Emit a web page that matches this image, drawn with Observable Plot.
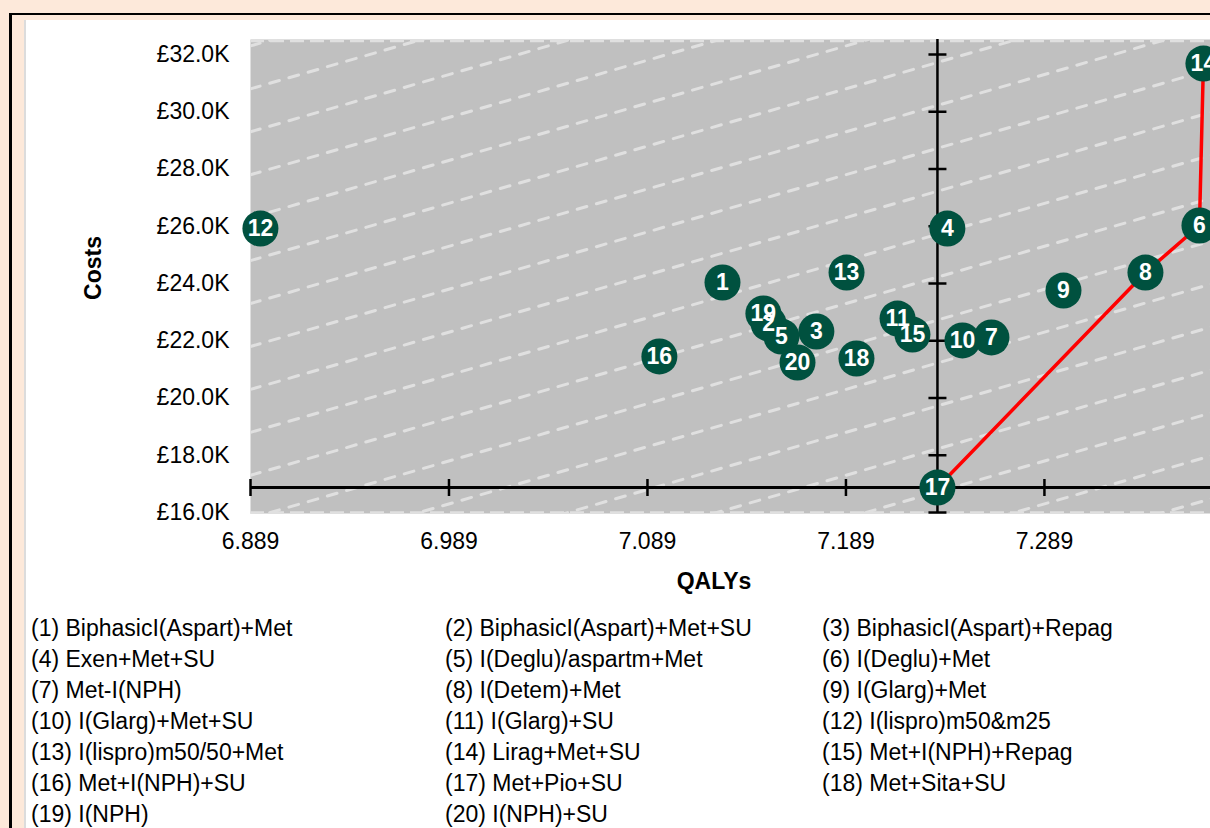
<!DOCTYPE html>
<html><head><meta charset="utf-8">
<script src="https://cdn.jsdelivr.net/npm/d3@7"></script>
<script src="https://cdn.jsdelivr.net/npm/@observablehq/plot@0.6"></script>
<style>
html,body{margin:0;padding:0;width:1210px;height:828px;overflow:hidden;background:#fde9da;font-family:"Liberation Sans",Arial,sans-serif;}
#outer{position:absolute;left:9px;top:13px;width:1400px;height:1000px;border-left:3px solid #000;border-top:2.5px solid #000;}
#panel{position:absolute;left:24px;top:20px;width:1400px;height:1000px;background:#fff;border-left:2px solid #dcdcdc;}
#chart{position:absolute;left:0;top:0;}
.title{position:absolute;font-weight:bold;font-size:23px;line-height:1;color:#000;white-space:nowrap;transform:translate(-50%,-50%);}
.item{position:absolute;white-space:nowrap;font-size:23px;line-height:31px;color:#000;}
</style></head>
<body>
<div id="outer"></div>
<div id="panel"></div>
<div id="chart"></div>
<div class="title" style="left:714px;top:581px;">QALYs</div>
<div class="title" style="left:93px;top:268px;transform:translate(-50%,-50%) rotate(-90deg);">Costs</div>
<div id="legend"></div>
<script>
// Strategy names (numbered 1..20)
const names = [
  "BiphasicI(Aspart)+Met", "BiphasicI(Aspart)+Met+SU", "BiphasicI(Aspart)+Repag",
  "Exen+Met+SU", "I(Deglu)/aspartm+Met", "I(Deglu)+Met",
  "Met-I(NPH)", "I(Detem)+Met", "I(Glarg)+Met",
  "I(Glarg)+Met+SU", "I(Glarg)+SU", "I(lispro)m50&m25",
  "I(lispro)m50/50+Met", "Lirag+Met+SU", "Met+I(NPH)+Repag",
  "Met+I(NPH)+SU", "Met+Pio+SU", "Met+Sita+SU",
  "I(NPH)", "I(NPH)+SU"
];
// QALYs per strategy
const qalys = [
  7.1268, 7.1500, 7.1741,
  7.2401, 7.1565, 7.3671,
  7.2623, 7.3399, 7.2986,
  7.2477, 7.2150, 6.8940,
  7.1893, 7.3691, 7.2225,
  7.0950, 7.2351, 7.1943,
  7.1474, 7.1646
];
// Costs per strategy (£ thousands)
const costs = [
  24.035, 22.603, 22.323,
  25.921, 22.148, 26.026,
  22.114, 24.384, 23.755,
  22.009, 22.777, 25.921,
  24.384, 31.685, 22.218,
  21.450, 16.873, 21.380,
  22.952, 21.240
];
// Efficiency frontier (strategy numbers, in order)
const frontierIds = [17, 8, 6, 14];
// Reference strategy where the axes cross
const referenceId = 17;
// Axis ticks (visible part)
const xTicks = [6.889, 6.989, 7.089, 7.189, 7.289];
const yTicks = [16, 18, 20, 22, 24, 26, 28, 30, 32];
// Willingness-to-pay iso-lines: cost at left edge (£K) and slope (£K per QALY)
const wtpIntercepts = [32.3, 30.8, 29.3, 27.8, 26.3, 24.8, 23.3, 21.8, 20.3, 18.8, 17.3, 15.8, 14.3, 12.8, 11.3, 9.8, 8.3, 6.8, 5.3];
const wtpSlope = 20;

const xDomain = [6.889, 7.4029];
const yDomain = [15.965, 32.524];

const data = names.map((n, i) => ({id: i + 1, name: n, q: qalys[i], c: costs[i]}));
const ref = data[referenceId - 1];
const frontier = frontierIds.map(id => data[id - 1]);
const wtp = wtpIntercepts.flatMap(b => [
  {b, q: xDomain[0], c: b},
  {b, q: xDomain[1], c: b + wtpSlope * (xDomain[1] - xDomain[0])}
]);

const vTick = {draw(ctx) { ctx.moveTo(0, -8.5); ctx.lineTo(0, 8.5); }};
const hTick = {draw(ctx) { ctx.moveTo(-9, 0); ctx.lineTo(9, 0); }};
const dashColor = "#e0e0e0";

const chart = Plot.plot({
  width: 1300, height: 560,
  marginLeft: 250, marginRight: 30, marginTop: 39, marginBottom: 47,
  style: {background: "transparent", maxWidth: "none", fontFamily: '"Liberation Sans", Arial, sans-serif', fontSize: "23px", color: "#000", overflow: "visible"},
  x: {domain: xDomain},
  y: {domain: yDomain},
  marks: [
    Plot.frame({fill: "#c0c0c0", stroke: "none"}),
    Plot.line(wtp, {x: "q", y: "c", z: "b", stroke: dashColor, strokeWidth: 3, strokeDasharray: "10,10", clip: true}),
    Plot.ruleY([yDomain[1]], {stroke: dashColor, strokeWidth: 2.5, strokeDasharray: "14,6", dy: 1.5}),
    Plot.ruleY([yDomain[0]], {stroke: dashColor, strokeWidth: 2.5, strokeDasharray: "14,6", dy: -1}),
    Plot.ruleY([ref.c], {stroke: "#000", strokeWidth: 3}),
    Plot.ruleX([ref.q], {stroke: "#000", strokeWidth: 2.5}),
    Plot.dot(xTicks, {x: d => d, y: () => ref.c, symbol: vTick, fill: "none", stroke: "#000", strokeWidth: 2.5}),
    Plot.dot(yTicks, {x: () => ref.q, y: d => d, symbol: hTick, fill: "none", stroke: "#000", strokeWidth: 2.5}),
    Plot.line(frontier, {x: "q", y: "c", stroke: "#ff0000", strokeWidth: 3.5}),
    Plot.dot(data, {x: "q", y: "c", r: 18, fill: "#00513f", stroke: "none"}),
    Plot.text(data, {x: "q", y: "c", text: d => String(d.id), fill: "#fff", fontWeight: "bold", fontSize: 23}),
    Plot.axisY(yTicks, {tickSize: 0, tickPadding: 21, tickFormat: d => `£${d.toFixed(1)}K`, label: null}),
    Plot.axisX(xTicks, {tickSize: 0, tickPadding: 19, tickFormat: d => d.toFixed(3), label: null})
  ]
});
document.getElementById("chart").appendChild(chart);

// Legend
const cols = [31, 445, 822];
const legend = document.getElementById("legend");
data.forEach((d, i) => {
  const el = document.createElement("div");
  el.className = "item";
  el.style.left = cols[i % 3] + "px";
  el.style.top = (612.5 + Math.floor(i / 3) * 31) + "px";
  el.textContent = `(${d.id}) ${d.name}`;
  legend.appendChild(el);
});
</script>
</body></html>
